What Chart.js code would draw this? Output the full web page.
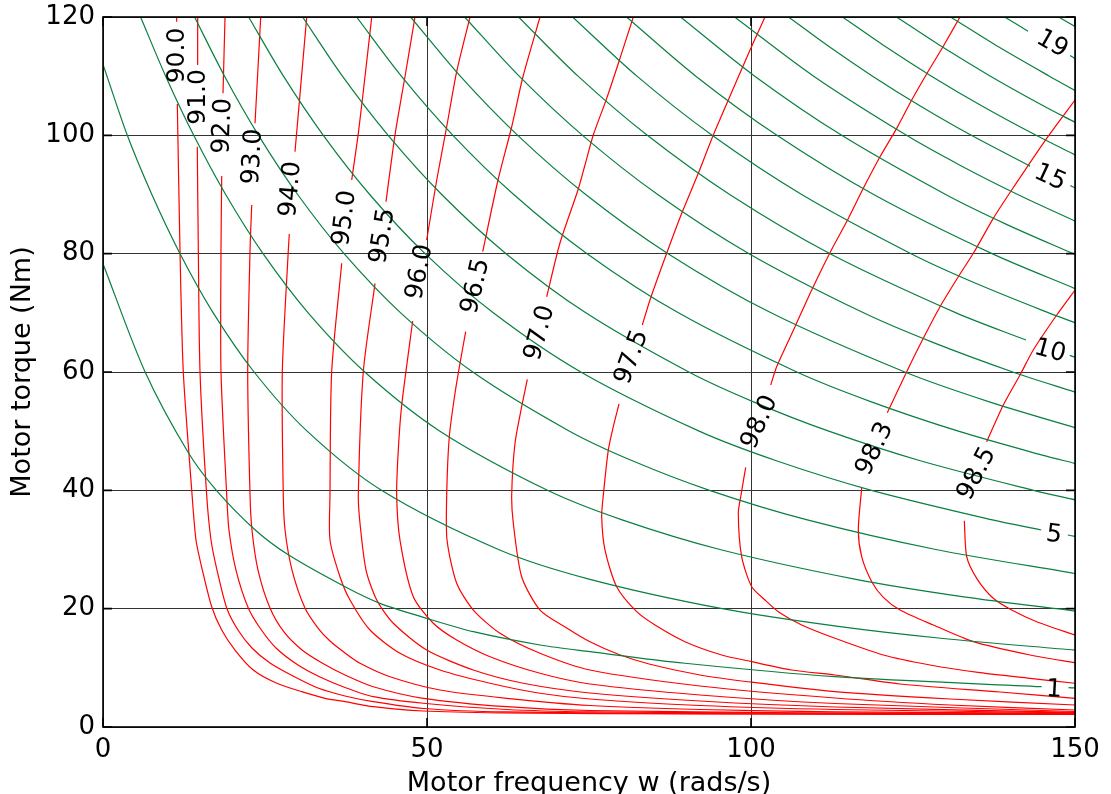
<!DOCTYPE html>
<html>
<head>
<meta charset="utf-8">
<script src="https://cdn.jsdelivr.net/npm/chart.js@4/dist/chart.umd.min.js"></script>
<style>
  html, body { margin: 0; padding: 0; background: #fff; }
</style>
</head>
<body>
<canvas id="motorMap" width="1111" height="794"></canvas>
<script>
// efficiency contours (%) - [w, T] points, null = gap left for the label
var effLevels = ['90.0', '91.0', '92.0', '93.0', '94.0', '95.0', '95.5', '96.0', '96.5', '97.0', '97.5', '98.0', '98.3', '98.5'];
var effCurves = [
  [[11.37,120],[11.37,119.2],null,[11.47,105.3],[11.88,80.6],[12.39,60.05],[13.69,40.05],[14.35,31.6],[15.33,26.53],[16.77,20.33],[18.32,16.39],[20.37,13.01],[23.19,9.63],[26.81,7.39],[30.66,5.97],[34.26,4.85],[37.35,4.28],[41.71,3.43],[49.43,2.70],[61.27,2.40],[92.13,2.20],[150,2.11]],
  [[14.61,120],[14.61,111.88],null,[14.55,98.07],[14.71,80.62],[14.97,60.05],[16.00,39.21],[16.67,31.6],[17.59,26.53],[19.09,20.11],[20.83,16.39],[22.99,13.35],[25.77,10.82],[29.32,8.62],[33.18,6.59],[37.35,5.24],[41.71,4.28],[49.43,3.13],[62.30,2.54],[92.13,2.26],[150,2.16]],
  [[18.83,120],[18.52,107.10],null,[18.32,93.12],[18.21,80.62],[18.21,60.05],[19.09,39.21],[19.44,33.29],[20.52,26.53],[22.42,20.11],[24.23,16.73],[26.70,13.35],[30.09,10.48],[33.49,8.45],[37.35,6.68],[41.71,5.12],[49.43,4.01],[62.30,2.96],[75.15,2.57],[107.56,2.32],[150,2.21]],
  [[24.34,120],[23.46,102.03],null,[22.95,88.22],[22.69,80.62],[22.33,60.05],[22.69,39.21],[22.99,33.29],[23.92,26.53],[25.77,20.11],[27.93,16.06],[30.71,13.01],[33.80,10.82],[37.35,8.79],[41.71,6.81],[49.43,4.85],[62.30,3.43],[75.15,2.79],[107.56,2.40],[150,2.26]],
  [[31.44,120],[29.63,97.23],null,[28.75,83.32],[28.60,80.62],[27.67,60.05],[27.82,39.21],[28.09,33.29],[29.17,26.53],[31.17,20.11],[33.18,16.73],[35.03,14.53],[37.35,12.51],[39.66,10.77],[44.29,8.50],[52.01,6.25],[62.30,4.85],[75.15,3.63],[92.13,2.96],[112.96,2.57],[150,2.32]],
  [[41.47,120],[40.43,109.9],[39.40,100.34],[38.38,92.45],null,[36.84,78.37],[35.29,60.05],[35.03,39.21],[35.03,31.6],[36.57,25.40],[38.12,21.46],[41.20,16.39],[45.83,12.46],[52.01,9.63],[59.72,7.39],[67.44,5.70],[75.15,4.73],[92.13,3.63],[112.96,2.96],[150,2.40]],
  [[48.15,120],[46.60,109.90],[45.06,100.05],[43.67,88.78],null,[41.98,74.99],[40.17,60.05],[39.40,39.21],[39.66,34.43],[40.59,26.53],[42.24,21.46],[44.80,17.53],[49.95,13.01],[57.15,9.63],[64.86,7.39],[75.15,5.75],[92.13,4.39],[112.96,3.38],[150,2.48]],
  [[56.64,120],[54.58,110.75],[53.04,101.45],[51.50,92.45],[49.95,82.31],null,[47.79,68.62],[46.10,54.42],[45.57,46.81],[45.32,39.21],[45.83,31.6],[47.89,22.02],[50.97,17.53],[54.58,14.70],[59.72,11.88],[67.44,9.08],[75.15,7.27],[92.13,5.41],[112.96,3.97],[150,2.62]],
  [[67.44,120],[64.81,109.90],[63.07,101.45],[60.96,92.45],[58.60,80.33],null,[55.97,66.81],[55.09,61.47],[54.32,56.40],[53.44,49.06],[53.04,39.21],[53.09,31.6],[54.58,24.29],[57.15,19.77],[61.27,15.84],[67.44,12.46],[75.15,9.63],[92.13,6.93],[112.96,4.90],[130.71,3.72],[150,2.87]],
  [[81.84,120],[79.78,113.01],[77.73,106.25],[75.66,100.05],[74.38,94.98],[73.30,90.76],[70.52,81.80],[68.47,72.72],null,[65.48,58.76],[64.61,54.13],[63.58,47.95],[63.07,39.21],[63.32,34.43],[64.61,25.40],[67.44,19.77],[71.56,16.73],[75.15,14.4],[79.52,12.3],[84.41,10.6],[92.13,8.79],[99.85,7.61],[112.96,5.97],[130.71,4.73],[150,3.72]],
  [[102.16,120],[99.85,114.42],[96.50,105.97],[94.18,100.05],[91.87,93.58],[89.31,86.82],[86.99,80.06],[84.41,72.17],[83.23,67.94],null,[79.63,54.59],[78.75,50.75],[77.98,46.81],[77.21,39.21],[76.96,35.54],[77.47,29.91],[79.27,23.71],[82.36,19.49],[85.19,17.24],[89.81,14.42],[95.48,12.17],[100.11,11.04],[106.28,9.63],[112.96,8.79],[123.0,7.27],[138.43,5.92],[150,4.85]],
  [[132.25,120],[129.63,114.97],[127.31,110.75],[124.80,105.97],[122.48,101.18],[119.91,96.38],[117.33,91.04],[114.9,85.69],[112.4,80.62],[109.37,73.86],[106.79,67.65],[103.96,60.89],[103.04,57.80],null,[99.18,43.89],[98.46,39.21],[98.04,36.12],[98.56,28.78],[100.11,23.71],[102.16,21.46],[104.21,19.49],[107.82,17.24],[112.96,14.99],[120.42,12.17],[127.62,10.48],[135.34,9.18],[143.06,8.23],[150,7.39]],
  [[150,105.97],[145.63,99.49],[140.23,90.76],[137.39,85.97],[134.31,80.06],[131.99,76.10],[129.17,71.03],[126.59,65.69],[124.03,60.05],[121.03,53.12],null,[117.08,40.39],[116.56,33.29],[117.08,28.78],[118.63,24.56],[120.42,21.92],[123.0,19.77],[128.13,17.24],[134.31,14.42],[143.06,12.17],[150,10.87]],
  [[150,73.86],[147.18,69.63],[143.56,63.71],[141.51,59.49],[138.94,54.42],[136.37,48.22],null,[132.92,34.87],[133.29,28.78],[134.83,25.13],[137.39,21.75],[140.23,19.77],[144.09,17.80],[150,15.55]]
];
var effLabelAt = [[11.42,113.5],[14.81,106.5],[18.52,101.6],[23.15,96.4],[29.01,90.9],[37.35,86.0],[43.21,83.0],[48.92,76.9],[57.56,74.5],[67.44,66.6],[81.64,62.5],[101.39,51.5],[119.14,47.0],[134.88,42.8]];
var effLabelAngle = [-90, -90, -88, -87, -85, -83, -81, -79, -77, -75, -70, -66, -64, -62];

// power contours (kW), 1 ... 20
var powerLevels = [1, 2, 3, 4, 5, 6, 7, 8, 9, 10, 11, 12, 13, 14, 15, 16, 17, 18, 19, 20];
var powerCurves = [
  [[0,78.3],[6.5,60],[13.2,46.3],[17.5,40],[23.5,33.3],[28.6,29.1],[37.35,23.7],[42.75,20.9],[49.95,18.37],[57.15,16.11],[67.44,13.86],[75.15,12.73],[89.81,10.77],[112.96,8.5],[144.85,6.81],null,[149,6.65],[150,6.6]],
  [[0,112],[3.75,100],[7.54,90],[11.89,80],[17.01,70],[23.32,60],[31.5,50],[42.98,40],[61.03,30],[75.0,25],[95.55,20],[113.46,17],[129.27,15],[150,12.99]],
  [[5.8,120],[9.67,110],[14.0,100],[18.93,90],[24.7,80],[31.66,70],[40.4,60],[52.0,50],[68.6,40],[80.11,35],[95.2,30],[116.0,25],[132.84,22],[150,19.6]],
  [[14.13,120],[18.76,110],[24.0,100],[30.04,90],[37.2,80],[45.94,70],[57.07,60],[72.0,50],[81.69,45],[93.6,40],[108.69,35],[128.53,30],[150,25.94]],
  [[22.47,120],[27.85,110],[34.0,100],[41.16,90],[49.7,80],[60.23,70],[73.73,60],[92.0,50],[103.91,45],[118.6,40],[137.26,35],[144.8,33.3],null,[148.9,32.45],[150,32.2]],
  [[30.8,120],[36.95,110],[44.0,100],[52.27,90],[62.2,80],[74.51,70],[90.4,60],[100.29,55],[112.0,50],[126.13,45],[143.6,40],[150,38.4]],
  [[39.13,120],[46.04,110],[54.0,100],[63.38,90],[74.7,80],[88.8,70],[107.07,60],[118.47,55],[132.0,50],[144.81,46],[150,44.55]],
  [[47.47,120],[55.13,110],[64.0,100],[74.49,90],[87.2,80],[103.09,70],[123.73,60],[136.65,55],[150,50.6]],
  [[55.8,120],[64.22,110],[74.0,100],[85.6,90],[99.7,80],[117.37,70],[128.06,65],[140.4,60],[150,56.6]],
  [[64.13,120],[73.31,110],[84.0,100],[96.71,90],[112.2,80],[131.66,70],[142.44,65.4],null,[149.19,62.8],[150,62.5]],
  [[72.47,120],[82.4,110],[94.0,100],[107.82,90],[124.7,80],[134.67,75],[145.94,70],[150,68.35]],
  [[80.8,120],[91.49,110],[104.0,100],[118.93,90],[137.2,80],[150,74.1]],
  [[89.13,120],[100.58,110],[114.0,100],[130.04,90],[139.34,85],[150,79.86]],
  [[97.47,120],[109.67,110],[124.0,100],[132.17,95],[141.16,90],[150,85.5]],
  [[105.8,120],[112.03,115],[118.76,110],[126.06,105],[134.0,100],[143.06,94.8],null,[149.29,91.5],[150,91.14]],
  [[114.13,120],[120.73,115],[127.85,110],[135.58,105],[144.0,100],[150,96.7]],
  [[122.47,120],[129.43,115],[136.95,110],[145.1,105],[150,102.2]],
  [[130.8,120],[138.12,115],[146.04,110],[150,107.6]],
  [[139.13,120],[142.75,117.6],null,[149.24,113.5],[150,113]],
  [[147.47,120],[150,118.4]]
];
var powerLabels = ['1', '5', '10', '15', '19'];
var powerLabelAt = [[146.76,6.25],[146.76,32.45],[146.14,63.5],[146.14,92.8],[146.45,115.4]];
var powerLabelAngle = [3, 7, 15, 25, 30];

var FONT = 'DejaVu Sans';

function toPoints(list) {
  return list.map(function (p) {
    return p ? { x: p[0], y: p[1] } : { x: null, y: null };
  });
}

var datasets = [];
powerCurves.forEach(function (c, i) {
  datasets.push({
    label: powerLevels[i] + ' kW',
    data: toPoints(c),
    borderColor: '#0a7f3f',
    borderWidth: 1.2,
    pointRadius: 0,
    showLine: true,
    spanGaps: false,
    tension: 0.3
  });
});
effCurves.forEach(function (c, i) {
  datasets.push({
    label: effLevels[i] + ' %',
    data: toPoints(c),
    borderColor: '#ff0000',
    borderWidth: 1.2,
    pointRadius: 0,
    showLine: true,
    spanGaps: false,
    tension: 0.25
  });
});

// inline contour labels, inward ticks and the frame round the plot
var contourLabels = {
  id: 'contourLabels',
  afterDatasetsDraw: function (chart) {
    var ctx = chart.ctx, xs = chart.scales.x, ys = chart.scales.y;
    var a = chart.chartArea;
    ctx.save();
    ctx.fillStyle = '#000';
    ctx.font = '25px "' + FONT + '"';
    ctx.textAlign = 'center';
    ctx.textBaseline = 'middle';
    function put(txt, at, ang) {
      ctx.save();
      ctx.translate(xs.getPixelForValue(at[0]), ys.getPixelForValue(at[1]));
      ctx.rotate(ang * Math.PI / 180);
      ctx.fillText(txt, 0, 0);
      ctx.restore();
    }
    effLevels.forEach(function (t, i) { put(t, effLabelAt[i], effLabelAngle[i]); });
    powerLabels.forEach(function (t, i) { put(t, powerLabelAt[i], powerLabelAngle[i]); });

    ctx.strokeStyle = '#000';
    ctx.lineWidth = 1.6;
    ctx.beginPath();
    xs.ticks.forEach(function (t) {
      var px = xs.getPixelForValue(t.value);
      ctx.moveTo(px, a.bottom); ctx.lineTo(px, a.bottom - 9);
      ctx.moveTo(px, a.top); ctx.lineTo(px, a.top + 9);
    });
    ys.ticks.forEach(function (t) {
      var py = ys.getPixelForValue(t.value);
      ctx.moveTo(a.left, py); ctx.lineTo(a.left + 9, py);
      ctx.moveTo(a.right, py); ctx.lineTo(a.right - 9, py);
    });
    ctx.stroke();
    ctx.strokeRect(a.left, a.top, a.right - a.left, a.bottom - a.top);
    ctx.restore();
  }
};

new Chart(document.getElementById('motorMap'), {
  type: 'scatter',
  data: { datasets: datasets },
  plugins: [contourLabels],
  options: {
    responsive: false,
    animation: false,
    devicePixelRatio: 1,
    layout: { padding: { top: 17, right: 36, left: 0, bottom: 0 } },
    plugins: { legend: { display: false }, tooltip: { enabled: false } },
    scales: {
      x: {
        type: 'linear',
        min: 0,
        max: 150,
        afterFit: function (s) { s.height = 67; s.paddingLeft = 0; s.paddingRight = 0; },
        ticks: { stepSize: 50, color: '#000', padding: 8, font: { family: FONT, size: 26 } },
        grid: { color: '#333', lineWidth: 1, drawTicks: false },
        border: { display: false },
        title: {
          display: true,
          text: 'Motor frequency w (rads/s)',
          color: '#000',
          font: { family: FONT, size: 27 },
          padding: { top: 0, bottom: -6 }
        }
      },
      y: {
        type: 'linear',
        min: 0,
        max: 120,
        afterFit: function (s) { s.width = 103; s.paddingTop = 0; s.paddingBottom = 0; },
        ticks: { stepSize: 20, color: '#000', padding: 8, font: { family: FONT, size: 26 } },
        grid: { color: '#333', lineWidth: 1, drawTicks: false },
        border: { display: false },
        title: {
          display: true,
          text: 'Motor torque (Nm)',
          color: '#000',
          font: { family: FONT, size: 27 },
          padding: { top: 7, bottom: 0 }
        }
      }
    }
  }
});
</script>
</body>
</html>
